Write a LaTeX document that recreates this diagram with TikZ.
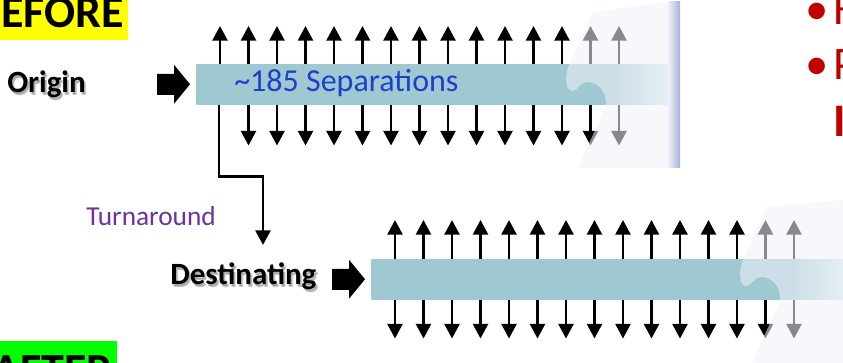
\documentclass[tikz,border=0pt]{standalone}
\usepackage{fontspec}
\setmainfont{Carlito}
\usetikzlibrary{arrows.meta,calc}

\definecolor{barteal}{RGB}{159,200,208}
\definecolor{barend}{RGB}{225,240,240}
\definecolor{wash}{RGB}{240,242,248}
\definecolor{edgeblue}{RGB}{168,176,220}
\definecolor{seplabel}{RGB}{28,64,204}
\definecolor{turnlabel}{RGB}{112,48,160}
\definecolor{bulletred}{RGB}{192,0,0}
\definecolor{hlyellow}{RGB}{255,255,0}
\definecolor{hlgreen}{RGB}{0,255,0}

% teal band that fades out toward its right end
\pgfdeclarehorizontalshading{barfade}{100bp}{color(0bp)=(barteal); color(25bp)=(barteal); color(69bp)=(barteal); color(75bp)=(barend); color(100bp)=(barend)}

\newcommand\blockarrow[1]{%
  \fill (#1) -- ++(-16,-19.5) -- ++(0,9) -- ++(-17,0) -- ++(0,21) -- ++(17,0) -- ++(0,9) -- cycle;}

% translucent turned-page sheet with the curl cutting into the band
\newcommand\curlsheet[1]{%
  \fill[wash, fill opacity=0.57]
    (593,12) -- (#1,2) -- (#1,168) -- (578,168)
    .. controls (590,140) and (603,115) .. (606,104)
    .. controls (606,92) and (599,82) .. (587,82)
    .. controls (580,82) and (578,91) .. (572,91)
    .. controls (564,90) and (565,72) .. (570,63) -- cycle;}

\tikzset{
  bar/.style={shading=barfade, inner sep=0pt, anchor=north west, minimum height=30pt},
  sep/.style={line width=1.9pt, -{Triangle[width=11.25pt,length=11pt]}},
  turn/.style={line width=2pt, -{Triangle[width=11.25pt,length=11pt]}},
  lbl/.style={font=\fontsize{23.2}{27}\selectfont\bfseries, inner sep=0pt, anchor=base west},
  lblshadow/.style={lbl, text=black, text opacity=0.13},
  bigtag/.style={font=\fontsize{34.5}{40}\selectfont\bfseries, inner sep=0pt, anchor=base east},
  redtxt/.style={text=bulletred, font=\fontsize{35}{40}\selectfont, inner sep=0pt, anchor=base west},
}

\begin{document}
\begin{tikzpicture}[x=0.75pt, y=-0.75pt]
\useasboundingbox (0,0) rectangle (843,363);
\begin{scope}
\clip (0,0) rectangle (843,363);

% corner tags
\fill[hlyellow] (0,0) rectangle (128,40);
\node[bigtag] (before) at (124,28) {EFORE};
\fill[hlgreen] (0,341) rectangle (117,370);
\node[bigtag] (after) at (113,386) {AFTER};

% red bullet column
\node[redtxt, anchor=base] (b1) at (817,25) {•};
\node[redtxt] (t1) at (833,25) {H};
\node[redtxt, anchor=base] (b2) at (817,80) {•};
\node[redtxt] (t2) at (833,80) {P};
\node[redtxt, font=\fontsize{35}{40}\selectfont\bfseries] (t3) at (833,137) {I};

% origin row
\node[bar, minimum width=357pt] (ob) at (196,64) {};
\foreach \i in {0,...,14}
  \draw[sep] ($(ob.north west)+(24+28.5*\i,0)$) -- ++(0,-38);
\foreach \i in {1,...,14}
  \draw[sep] ($(ob.south west)+(24+28.5*\i,0)$) -- ++(0,41);
\node[inner sep=0pt, anchor=base west, text=seplabel, font=\fontsize{24}{28}\selectfont] (seps) at (234,92) {\textasciitilde185 Separations};

\foreach \dx/\dy in {1/1.5, 1.8/2.2, 2.4/2.8}
  \node[lblshadow] at ($(7,93)+(\dx,\dy)$) {Origin};
\node[lbl] (origin) at (7,93) {Origin};
\blockarrow{$(ob.west)+(-6,0)$}

% destinating row
\node[bar, minimum width=360pt] (db) at (371,259) {};
\foreach \i in {0,...,14}{
  \draw[sep] ($(db.north west)+(24+28.5*\i,0)$) -- ++(0,-39);
  \draw[sep] ($(db.south west)+(24+28.5*\i,0)$) -- ++(0,39);
}
\foreach \dx/\dy in {1/1.5, 1.8/2.2, 2.4/2.8}
  \node[lblshadow] at ($(170,285)+(\dx,\dy)$) {Destinating};
\node[lbl] (dest) at (170,285) {Destinating};
\blockarrow{$(db.west)+(-6,0)$}

% turnaround connector
\coordinate (tip) at ($(db.north west)+(-108,-14)$);
\draw[turn] ($(ob.south west)+(23,0)$) -- ++(0,72) -| (tip);
\node[inner sep=0pt, anchor=base west, text=turnlabel, font=\fontsize{20.5}{24}\selectfont] (turnlbl) at (86,226) {Turnaround};

% turned-page sheets over the band ends
\curlsheet{668}
\shade[left color=wash, right color=edgeblue] (668,2) rectangle (680,168);
\begin{scope}[shift={(174,195)}]
  \curlsheet{700}
\end{scope}
\end{scope}
\end{tikzpicture}
\end{document}
